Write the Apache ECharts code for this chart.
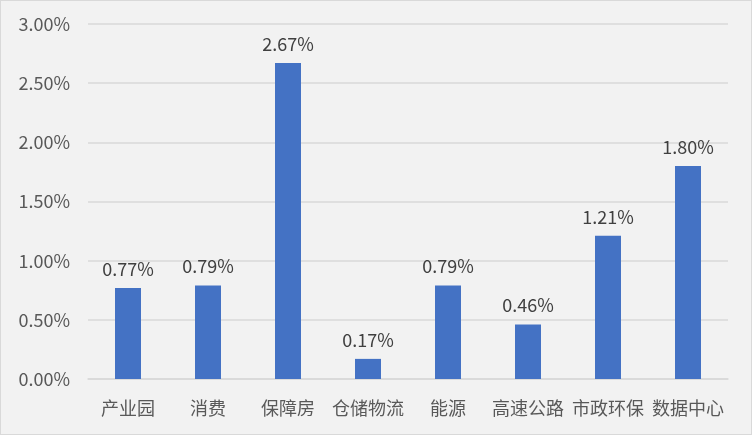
<!DOCTYPE html>
<html><head><meta charset="utf-8">
<script src="https://cdn.jsdelivr.net/npm/echarts@6/dist/echarts.min.js"></script>
<style>
html,body{margin:0;padding:0;background:#fff;}
#c{position:absolute;left:0;top:0;width:750px;height:433px;border:1px solid #d9d9d9;background:#f2f2f2;}
</style></head><body>
<div id="c"></div>
<script>
const categories = ['产业园','消费','保障房','仓储物流','能源','高速公路','市政环保','数据中心'];
const values = [0.77, 0.79, 2.67, 0.17, 0.79, 0.46, 1.21, 1.80];
const font = '"Noto Sans CJK SC", "Noto Sans", sans-serif';
const chart = echarts.init(document.getElementById('c'));
chart.setOption({
  backgroundColor: '#f2f2f2',
  animation: false,
  grid: {left: 87, right: 23, top: 23, bottom: 55},
  xAxis: {
    type: 'category', data: categories,
    axisLine: {lineStyle: {color: '#d9d9d9', width: 1.5}},
    axisTick: {show: false},
    axisLabel: {color: '#595959', fontSize: 18, fontFamily: font, margin: 20, interval: 0}
  },
  yAxis: {
    type: 'value', min: 0, max: 3, interval: 0.5,
    axisLine: {show: false}, axisTick: {show: false},
    splitLine: {lineStyle: {color: '#d9d9d9', width: 1.5}},
    axisLabel: {color: '#595959', fontSize: 18, fontFamily: font, margin: 18,
      formatter: v => v.toFixed(2) + '%'}
  },
  series: [{
    type: 'bar', data: values, barWidth: 26,
    itemStyle: {color: '#4472c4'},
    label: {show: true, position: 'top', distance: 10, color: '#404040', fontSize: 18, fontFamily: font,
      formatter: p => p.value.toFixed(2) + '%'}
  }]
});
</script>
</body></html>
